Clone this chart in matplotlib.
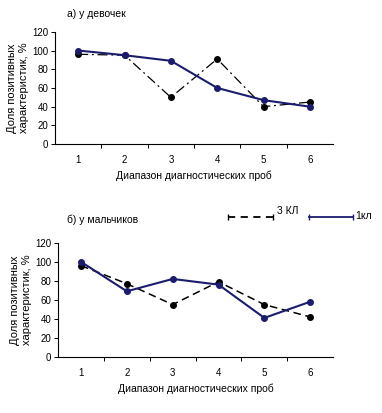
import matplotlib.pyplot as plt
from matplotlib.ticker import MultipleLocator

probes = [1, 2, 3, 4, 5, 6]
girls_1 = [100, 95, 89, 60, 47, 40]
girls_3 = [96, 95, 50, 91, 40, 45]
boys_1 = [100, 69, 82, 76, 41, 58]
boys_3 = [96, 77, 55, 79, 55, 42]

navy = '#1c1c6e'
plt.rcParams['font.family'] = ['Liberation Sans', 'DejaVu Sans']

fig = plt.figure(figsize=(3.82, 4.13), dpi=100)
ax1 = fig.add_axes([0.144, 0.651, 0.728, 0.272])
ax2 = fig.add_axes([0.152, 0.136, 0.720, 0.276])

def style(ax):
    ax.set_xlim(0.5, 6.5)
    ax.set_ylim(0, 120)
    ax.yaxis.set_major_locator(MultipleLocator(20))
    ax.set_xticks(probes)
    ax.set_xticks([1.5, 2.5, 3.5, 4.5, 5.5], minor=True)
    ax.tick_params(axis='x', which='major', length=0, labelsize=7, pad=8)
    ax.tick_params(axis='x', which='minor', length=3, width=0.7)
    ax.tick_params(axis='y', length=3, width=0.7, labelsize=7, pad=2)
    for s in ['top', 'right']:
        ax.spines[s].set_visible(False)
    ax.spines['left'].set_linewidth(0.8)
    ax.spines['bottom'].set_linewidth(0.8)
    ax.set_xlabel('Диапазон диагностических проб', fontsize=7.5, labelpad=4)
    ax.set_ylabel('Доля позитивных\nхарактеристик, %', fontsize=8, labelpad=2,
                  linespacing=1.25)

ax1.plot(probes, girls_3, color='black', linestyle=(0, (8, 3, 1.5, 3)), lw=0.9,
         marker='o', ms=4)
ax1.plot(probes, girls_1, color=navy, lw=1.5, marker='o', ms=4)
style(ax1)
fig.text(0.175, 0.965, 'а) у девочек', fontsize=7.5, va='center')

ax2.plot(probes, boys_3, color='black', linestyle=(0, (5, 3)), lw=1.1,
         marker='o', ms=4)
ax2.plot(probes, boys_1, color=navy, lw=1.5, marker='o', ms=4)
style(ax2)
fig.text(0.175, 0.467, 'б) у мальчиков', fontsize=7.5, va='center')

# legend drawn by hand, as in the original
y_leg = 1 - 217 / 413
fig.add_artist(plt.Line2D([228 / 382, 273 / 382], [y_leg, y_leg], color='black',
                          lw=1.3, linestyle=(0, (4, 3)), marker='|', ms=5,
                          markevery=[0, 1]))
fig.text(277 / 382, 1 - 211 / 413, '3 КЛ', fontsize=7.5, va='center')
fig.add_artist(plt.Line2D([309 / 382, 353 / 382], [y_leg, y_leg], color=navy,
                          lw=1.3, marker='|', ms=5))
fig.text(355 / 382, 1 - 216 / 413, '1кл', fontsize=7.5, va='center')

fig.savefig('out.png', dpi=100, facecolor='white')
